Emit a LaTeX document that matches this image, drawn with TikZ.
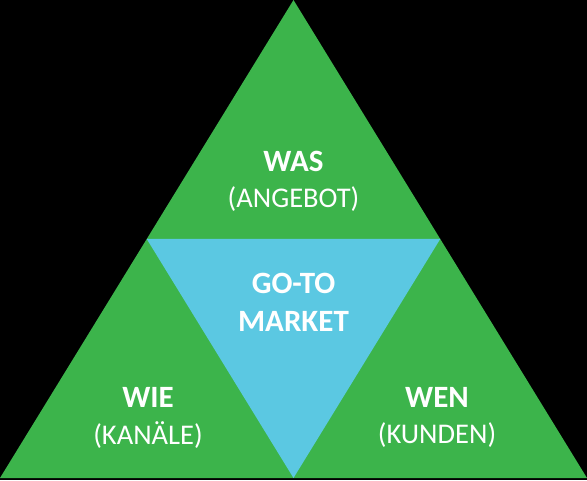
\documentclass[tikz,border=0pt]{standalone}
\usepackage{fontspec}
\setmainfont{Carlito}
\definecolor{gtmgreen}{HTML}{3CB44B}
\definecolor{gtmcyan}{HTML}{5BC8E2}
\begin{document}
\begin{tikzpicture}[x=1pt,y=1pt,line join=round,
  head/.style={font=\bfseries\fontsize{31}{31}\selectfont,text=white},
  sub/.style={font=\fontsize{28.5}{28.5}\selectfont,text=white}]
  \fill[black] (0,0) rectangle (587,480);
  \useasboundingbox (0,0) rectangle (587,480);
  \foreach \x/\y/\z in {0/2/A,587/2/B,293.5/480/C,146.75/241/D,440.25/241/E,293.5/2/F}{
    \path (\x,\y) coordinate (\z);
  }
  \fill[gtmgreen] (A)--(B)--(C)--cycle;
  \fill[gtmcyan] (D)--(E)--(F)--cycle;
  % labels
  \node[head] (was) at (293.5,319) {WAS};
  \node[sub] (angebot) at (293.5,281) {(ANGEBOT)};
  \node[head] (goto) at (293.5,197) {GO-TO};
  \node[head] (market) at (293.5,159) {MARKET};
  \node[head] (wie) at (148,83) {WIE};
  \node[sub] (kanaele) at (148,45) {(KANÄLE)};
  \node[head] (wen) at (437,83) {WEN};
  \node[sub] (kunden) at (437,45) {(KUNDEN)};
\end{tikzpicture}
\end{document}
